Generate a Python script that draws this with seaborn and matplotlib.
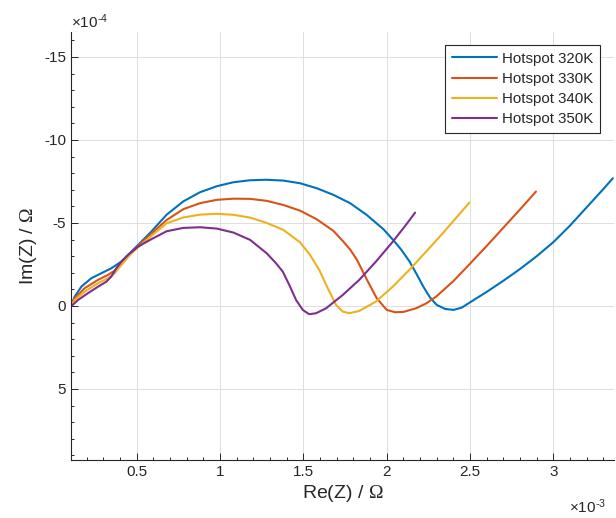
import numpy as np
import pandas as pd
import matplotlib
matplotlib.use('Agg')
import matplotlib.pyplot as plt
import matplotlib.transforms as mtransforms
import seaborn as sns
from matplotlib.ticker import MultipleLocator, ScalarFormatter

# =========================
# DATA
# =========================
curve_labels = ['Hotspot 320K', 'Hotspot 330K', 'Hotspot 340K', 'Hotspot 350K']

# Re(Z) in 1e-3 Ohm, Im(Z) in 1e-4 Ohm
re_320 = [0.106, 0.128, 0.168, 0.228, 0.288, 0.348, 0.408, 0.468, 0.528, 0.588,
          0.680, 0.780, 0.880, 0.980, 1.080, 1.180, 1.280, 1.380, 1.480, 1.580,
          1.680, 1.780, 1.880, 1.980, 2.036, 2.086, 2.135, 2.180, 2.220, 2.260,
          2.300, 2.350, 2.400, 2.450, 2.500, 2.600, 2.700, 2.800, 2.900, 3.000,
          3.100, 3.200, 3.300, 3.356]
im_320 = [0.0, -0.56, -1.16, -1.67, -1.97, -2.27, -2.67, -3.27, -3.87, -4.48,
          -5.50, -6.30, -6.85, -7.21, -7.45, -7.57, -7.60, -7.55, -7.39, -7.09,
          -6.69, -6.19, -5.48, -4.62, -4.00, -3.40, -2.70, -1.90, -1.15, -0.50,
          -0.06, 0.18, 0.24, 0.10, -0.22, -0.85, -1.52, -2.23, -3.00, -3.85,
          -4.85, -5.95, -7.05, -7.69]

re_330 = [0.106, 0.128, 0.188, 0.268, 0.328, 0.368, 0.408, 0.468, 0.580, 0.680,
          0.780, 0.880, 0.980, 1.080, 1.180, 1.280, 1.380, 1.480, 1.580, 1.680,
          1.740, 1.780, 1.820, 1.880, 1.940, 2.000, 2.050, 2.100, 2.176, 2.236,
          2.296, 2.400, 2.500, 2.600, 2.700, 2.800, 2.895]
im_330 = [0.0, -0.46, -1.07, -1.57, -1.87, -2.13, -2.57, -3.23, -4.28, -5.18,
          -5.83, -6.19, -6.39, -6.46, -6.45, -6.33, -6.08, -5.74, -5.22, -4.52,
          -3.87, -3.40, -2.80, -1.60, -0.46, 0.24, 0.38, 0.36, 0.14, -0.15,
          -0.56, -1.50, -2.55, -3.62, -4.72, -5.82, -6.89]

re_340 = [0.106, 0.128, 0.188, 0.268, 0.328, 0.368, 0.408, 0.468, 0.580, 0.680,
          0.780, 0.880, 0.980, 1.080, 1.180, 1.280, 1.380, 1.480, 1.540, 1.595,
          1.646, 1.696, 1.736, 1.776, 1.835, 1.935, 2.036, 2.135, 2.236, 2.336,
          2.420, 2.495]
im_340 = [0.0, -0.36, -0.86, -1.37, -1.67, -1.97, -2.47, -3.17, -4.15, -4.98,
          -5.33, -5.50, -5.55, -5.49, -5.32, -5.00, -4.58, -3.83, -3.07, -2.17,
          -1.07, -0.06, 0.34, 0.44, 0.30, -0.26, -1.16, -2.17, -3.27, -4.38,
          -5.35, -6.22]

re_350 = [0.106, 0.148, 0.208, 0.268, 0.318, 0.348, 0.378, 0.408, 0.448, 0.508,
          0.588, 0.680, 0.780, 0.880, 0.980, 1.080, 1.180, 1.280, 1.336, 1.376,
          1.415, 1.456, 1.496, 1.535, 1.576, 1.636, 1.736, 1.835, 1.935, 2.036,
          2.115, 2.170]
im_350 = [0.04, -0.36, -0.77, -1.16, -1.46, -1.77, -2.27, -2.67, -3.07, -3.57,
          -4.02, -4.50, -4.70, -4.74, -4.66, -4.42, -3.98, -3.17, -2.57, -2.07,
          -1.27, -0.36, 0.24, 0.50, 0.44, 0.14, -0.66, -1.57, -2.67, -3.87,
          -4.88, -5.62]

re_all = [re_320, re_330, re_340, re_350]
im_all = [im_320, im_330, im_340, im_350]

colors = ['#0072BD', '#D95319', '#EDB120', '#7E2F8E']

# =========================
# STYLE
# =========================
sns.set_theme(style='white')
plt.rcParams['font.family'] = ['Liberation Sans', 'DejaVu Sans']
plt.rcParams['axes.unicode_minus'] = False
plt.rcParams['mathtext.fontset'] = 'custom'
plt.rcParams['mathtext.rm'] = 'Liberation Sans'
plt.rcParams['mathtext.sf'] = 'Liberation Serif'

ink = '#262626'


class PlainFormatter(ScalarFormatter):
    # MATLAB-like tick labels: 1 instead of 1.0, hyphen in the exponent
    def _set_format(self):
        self.format = '%g'

    def get_offset(self):
        if not self.orderOfMagnitude:
            return ''
        sign = r'\text{-}' if self.orderOfMagnitude < 0 else ''
        return r'$\times\mathdefault{10^{%s%d}}$' % (sign, abs(self.orderOfMagnitude))


# long-form table for seaborn
frames = []
for lab, x, y in zip(curve_labels, re_all, im_all):
    frames.append(pd.DataFrame({'re': np.array(x) * 1e-3,
                                'im': np.array(y) * 1e-4,
                                'curve': lab}))
df = pd.concat(frames, ignore_index=True)

# =========================
# PLOTTING
# =========================
fig = plt.figure(figsize=(6.16, 5.18), dpi=100)
ax = fig.add_axes([71 / 616, 58 / 518, 543 / 616, 428 / 518])

sns.lineplot(data=df, x='re', y='im', hue='curve', palette=colors,
             sort=False, estimator=None, linewidth=1.5, ax=ax)

ax.set_xlim(0.106e-3, 3.363e-3)
ax.set_ylim(9.28e-4, -16.5e-4)

ax.xaxis.set_major_locator(MultipleLocator(0.5e-3))
ax.xaxis.set_minor_locator(MultipleLocator(0.1e-3))
ax.yaxis.set_major_locator(MultipleLocator(5e-4))
ax.yaxis.set_minor_locator(MultipleLocator(1e-4))

fx = PlainFormatter(useMathText=True)
fx.set_powerlimits((-3, -3))
ax.xaxis.set_major_formatter(fx)
fy = PlainFormatter(useMathText=True)
fy.set_powerlimits((-4, -4))
ax.yaxis.set_major_formatter(fy)

ax.tick_params(which='both', direction='in', bottom=True, left=True,
               color=ink, labelcolor=ink, labelsize=11, width=0.7)
ax.tick_params(which='major', length=5)
ax.tick_params(which='minor', length=2.5)

xoff = ax.xaxis.get_offset_text()
yoff = ax.yaxis.get_offset_text()
for t in (xoff, yoff):
    t.set_color(ink)
    t.set_fontsize(11)
xoff.set_x(0.985)
xoff.set_transform(xoff.get_transform() +
                   mtransforms.ScaledTranslation(0, -10 / 72, fig.dpi_scale_trans))

for side in ['top', 'right']:
    ax.spines[side].set_visible(False)
for side in ['left', 'bottom']:
    ax.spines[side].set_color(ink)
    ax.spines[side].set_linewidth(0.8)

ax.grid(True, which='major', color='#dedede', linewidth=0.7)
ax.set_axisbelow(True)

ax.set_xlabel(r'Re(Z) / $\mathsf{\Omega}$', fontsize=14, color=ink, labelpad=3)
ax.set_ylabel(r'Im(Z) / $\mathsf{\Omega}$', fontsize=14, color=ink)

leg = ax.legend(loc='upper right', bbox_to_anchor=(0.974, 0.97),
                borderaxespad=0, frameon=True, fancybox=False,
                edgecolor=ink, framealpha=1, fontsize=10.8,
                handlelength=3.05, borderpad=0.45, labelspacing=0.42,
                handletextpad=0.3)
leg.get_frame().set_linewidth(0.8)

fig.savefig('out.png', dpi=100)
